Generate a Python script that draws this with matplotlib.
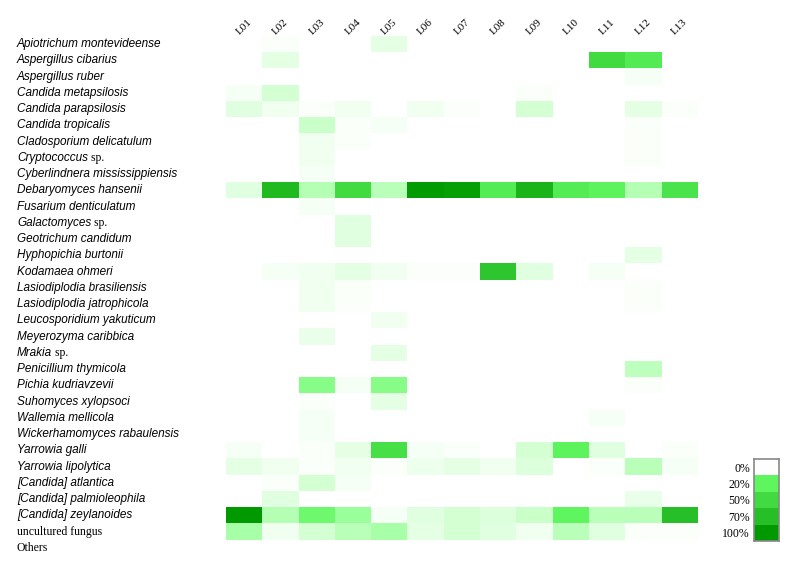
import matplotlib
matplotlib.use('Agg')
import matplotlib.pyplot as plt
import matplotlib.transforms as mtransforms
from matplotlib.colors import LinearSegmentedColormap, Normalize
import numpy as np

# Sample names (columns) and taxa (rows)
samples = ['L01', 'L02', 'L03', 'L04', 'L05', 'L06', 'L07',
           'L08', 'L09', 'L10', 'L11', 'L12', 'L13']

taxa = ['Apiotrichum montevideense', 'Aspergillus cibarius',
        'Aspergillus ruber', 'Candida metapsilosis',
        'Candida parapsilosis', 'Candida tropicalis',
        'Cladosporium delicatulum', 'Cryptococcus sp.',
        'Cyberlindnera mississippiensis', 'Debaryomyces hansenii',
        'Fusarium denticulatum', 'Galactomyces sp.',
        'Geotrichum candidum', 'Hyphopichia burtonii',
        'Kodamaea ohmeri', 'Lasiodiplodia brasiliensis',
        'Lasiodiplodia jatrophicola', 'Leucosporidium yakuticum',
        'Meyerozyma caribbica', 'Mrakia sp.', 'Penicillium thymicola',
        'Pichia kudriavzevii', 'Suhomyces xylopsoci',
        'Wallemia mellicola', 'Wickerhamomyces rabaulensis',
        'Yarrowia galli', 'Yarrowia lipolytica',
        '[Candida] atlantica', '[Candida] palmioleophila',
        '[Candida] zeylanoides', 'uncultured fungus', 'Others']

# Relative abundance (%)
#           L01  L02  L03  L04  L05  L06  L07  L08  L09  L10  L11  L12  L13
apio     = [0,   0.5, 0,   0,   2.5, 0,   0,   0,   0,   0,   0,   0,   0]
asp_cib  = [0,   2.5, 0,   0,   0,   0,   0,   0,   0,   0,   50,  32,  0]
asp_rub  = [0,   0,   0,   0,   0,   0,   0,   0,   0,   0,   0,   0.8, 0]
c_meta   = [0.8, 4,   0,   0,   0,   0,   0,   0,   0.5, 0,   0,   0,   0]
c_para   = [3,   1.5, 0.5, 1.5, 0,   1.2, 0.7, 0,   4,   0,   0,   2.5, 0.6]
c_trop   = [0,   0,   5,   0.6, 1.0, 0,   0,   0,   0,   0,   0,   0.5, 0]
clado    = [0,   0,   1.5, 0.4, 0,   0,   0,   0,   0,   0,   0,   0.5, 0]
crypto   = [0,   0,   1.5, 0,   0,   0,   0,   0,   0,   0,   0,   0.4, 0]
cyber    = [0,   0,   1.0, 0,   0,   0,   0,   0,   0,   0,   0,   0,   0]
debary   = [3,   75,  7,   50,  6.5, 98,  95,  30,  80,  30,  22,  7,   40]
fusar    = [0.3, 0,   1.0, 0,   0,   0,   0,   0,   0,   0,   0,   0,   0]
galacto  = [0,   0,   0,   3,   0,   0,   0,   0,   0,   0,   0,   0,   0]
geotri   = [0,   0,   0,   3,   0,   0,   0,   0,   0,   0,   0,   0,   0]
hypho    = [0,   0,   0,   0,   0,   0,   0,   0,   0,   0,   0,   2.5, 0]
kodam    = [0,   0.8, 1.5, 2.5, 1.2, 0.5, 0.5, 65,  3,   0,   0.8, 0.3, 0.3]
lasio_b  = [0,   0,   1.2, 0.6, 0,   0,   0,   0,   0,   0,   0,   0.4, 0]
lasio_j  = [0,   0,   1.2, 0.6, 0,   0,   0,   0,   0,   0,   0,   0.4, 0]
leuco    = [0,   0,   0,   0,   1.2, 0,   0,   0,   0,   0,   0,   0,   0]
meyero   = [0,   0,   2,   0,   0,   0,   0,   0,   0,   0,   0,   0,   0]
mrakia   = [0,   0,   0,   0,   2.5, 0,   0,   0,   0,   0,   0,   0,   0]
penic    = [0,   0,   0,   0,   0,   0,   0,   0,   0,   0,   0,   6,   0]
pichia   = [0,   0,   12,  0.8, 12,  0,   0,   0,   0,   0,   0,   0.7, 0]
suhom    = [0,   0,   0.4, 0,   2.5, 0,   0,   0,   0,   0,   0,   0,   0]
wallem   = [0,   0,   1.0, 0,   0,   0,   0,   0,   0,   0,   1.0, 0,   0]
wicker   = [0,   0,   0.8, 0,   0,   0,   0,   0,   0,   0,   0,   0,   0]
y_galli  = [0.8, 0,   0.6, 2.5, 45,  0.8, 0.5, 0,   4,   22,  3,   0,   0.7]
y_lipo   = [2.5, 1.2, 0.7, 1.5, 0.6, 1.8, 2.5, 1.2, 3.5, 0.3, 0.4, 6.5, 0.8]
c_atlan  = [0,   0.5, 4,   1.0, 0,   0,   0,   0,   0,   0,   0,   0,   0]
c_palmi  = [0,   3,   0,   0,   0,   0,   0,   0,   0,   0,   0,   2,   0]
c_zeyl   = [100, 7,   17,  9,   0.8, 3,   4,   3.5, 5,   20,  6.5, 6.5, 70]
uncult   = [8,   1.2, 4,   6.5, 8,   2.5, 4,   3,   1.5, 6.5, 3,   0.4, 0.4]
others   = [0,   0,   0,   0,   0,   0,   0,   0,   0,   0,   0,   0,   0]

abundance = np.array([apio, asp_cib, asp_rub, c_meta, c_para, c_trop, clado,
                      crypto, cyber, debary, fusar, galacto, geotri, hypho,
                      kodam, lasio_b, lasio_j, leuco, meyero, mrakia, penic,
                      pichia, suhom, wallem, wicker, y_galli, y_lipo, c_atlan,
                      c_palmi, c_zeyl, uncult, others])

legend_values = [0, 20, 50, 70, 100]
legend_labels = ['0%', '20%', '50%', '70%', '100%']

# Colour scale: white -> pale green -> bright green -> dark green
cmap = LinearSegmentedColormap.from_list('greens', [
    (0.0, '#ffffff'), (0.1, '#90ff90'), (0.2, '#5ef55e'),
    (0.5, '#42db42'), (0.7, '#28c028'), (1.0, '#009900')])
norm = Normalize(vmin=0, vmax=100)

fig = plt.figure(figsize=(7.93, 5.67), dpi=100)
ax = fig.add_axes([0.285, 0.0194, 0.595, 0.917])

ax.imshow(abundance, cmap=cmap, norm=norm, aspect='auto',
          interpolation='nearest')
ax.set_xlim(-0.5, len(samples) - 0.5)
ax.set_ylim(len(taxa) - 0.5, -0.5)
for s in ax.spines.values():
    s.set_visible(False)

ax.xaxis.tick_top()
ax.set_xticks(range(len(samples)))
ax.set_xticklabels(samples, rotation=45, ha='center', va='bottom',
                   family='Liberation Serif', fontsize=8)
ax.tick_params(axis='x', length=0, pad=0)
ax.set_yticks([])

# Row labels, flush left in figure coordinates
trans = mtransforms.blended_transform_factory(fig.transFigure, ax.transData)
for i, name in enumerate(taxa):
    if name in ('uncultured fungus', 'Others'):
        ax.text(0.0214, i, name, transform=trans, ha='left', va='center',
                family='Liberation Serif', fontsize=8.5)
    elif name.endswith(' sp.'):
        t = ax.text(0.0214, i, name[:-4], transform=trans, ha='left',
                    va='center', family='Liberation Sans', style='italic',
                    fontsize=8.5)
        ax.annotate(' sp.', xy=(1, 0), xycoords=t, ha='left', va='bottom',
                    family='Liberation Serif', fontsize=8.5)
    else:
        ax.text(0.0214, i, name, transform=trans, ha='left', va='center',
                family='Liberation Sans', style='italic', fontsize=8.5)

# Legend blocks
lax = fig.add_axes([0.951, 0.0459, 0.0315, 0.1446])
lax.imshow(np.array(legend_values).reshape(-1, 1), cmap=cmap, norm=norm,
           aspect='auto', interpolation='nearest')
lax.set_xticks([])
lax.set_yticks(range(len(legend_values)))
lax.set_yticklabels(legend_labels, family='Liberation Serif', fontsize=8.5)
lax.tick_params(axis='y', length=0, pad=3)
for s in lax.spines.values():
    s.set_color('#888888')
    s.set_linewidth(1.2)

fig.savefig('out.png', dpi=100)
